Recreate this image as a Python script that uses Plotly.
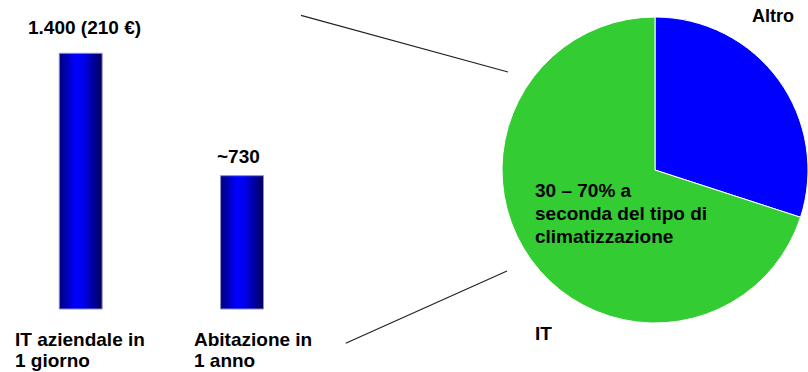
import plotly.graph_objects as go

# --- data -----------------------------------------------------------------
bar_categories = [["IT aziendale in", "1 giorno"], ["Abitazione in", "1 anno"]]
bar_values = [1400, 730]
bar_value_labels = ["1.400 (210 €)", "~730"]

pie_labels = ["Altro", "IT"]
pie_values = [30, 70]
pie_note = ["30 – 70% a", "seconda del tipo di", "climatizzazione"]

# --- style / layout -------------------------------------------------------
W, H = 808, 372
FONT = "Liberation Sans, Arial, sans-serif"
BAR_WIDTH = 0.266
BAR_SCALE = [[0.0, "#00007a"], [0.38, "#0000ff"], [0.55, "#0000f0"], [1.0, "#00005a"]]
PIE_COLORS = ["#0000ff", "#33cc33"]

label_shift = [(4, 26), (-4, 19)]        # (x, y) px offset of value labels
cat_label_x = [13, 192]                  # left edge of category labels, px
cat_label_y = [339, 360.5]               # line centres of category labels, px


def px(x):
    return x / W


def py(y):
    return 1 - y / H


fig = go.Figure()

# bars as gradient-filled columns on a linear axis
for i, v in enumerate(bar_values):
    x0, x1 = i - BAR_WIDTH / 2, i + BAR_WIDTH / 2
    fig.add_trace(go.Scatter(
        x=[x0, x1, x1, x0, x0], y=[0, 0, v, v, 0],
        mode="lines", fill="toself",
        line=dict(color="#8c8cc8", width=1),
        fillgradient=dict(type="horizontal", colorscale=BAR_SCALE),
        hoverinfo="skip", showlegend=False,
        xaxis="x", yaxis="y",
    ))

# pie of the energy share
fig.add_trace(go.Pie(
    labels=pie_labels, values=pie_values,
    marker=dict(colors=PIE_COLORS, line=dict(color="white", width=1)),
    sort=False, direction="clockwise", rotation=0,
    textinfo="none", hoverinfo="label+percent", showlegend=False,
    domain=dict(x=[px(502), 1.0], y=[py(323), py(17)]),
))

ann = []
font = dict(family=FONT, size=19, color="black", weight=700)

for i, (v, t) in enumerate(zip(bar_value_labels, bar_values)):
    dx, dy = label_shift[i]
    ann.append(dict(x=i, y=t, xref="x", yref="y", text=v, showarrow=False,
                    xanchor="center", yanchor="middle", xshift=dx, yshift=dy,
                    font=font))

for i, lines in enumerate(bar_categories):
    for j, line in enumerate(lines):
        ann.append(dict(x=px(cat_label_x[i]), y=py(cat_label_y[j]),
                        xref="paper", yref="paper", text=line, showarrow=False,
                        xanchor="left", yanchor="middle", font=font))

ann.append(dict(x=px(773), y=py(16.5), xref="paper", yref="paper",
                text=pie_labels[0], showarrow=False, xanchor="center",
                yanchor="middle", font=dict(font, size=18)))
ann.append(dict(x=px(533), y=py(333), xref="paper", yref="paper",
                text=pie_labels[1], showarrow=False, xanchor="left",
                yanchor="middle", font=font))

for j, line in enumerate(pie_note):
    ann.append(dict(x=px(533), y=py(190 + 23 * j), xref="paper", yref="paper",
                    text=line, showarrow=False, xanchor="left",
                    yanchor="middle", font=font))

# connector lines from the bar panel to the pie
shapes = [
    dict(type="line", xref="paper", yref="paper",
         x0=px(301), y0=py(15.3), x1=px(508), y1=py(72),
         line=dict(color="#222222", width=1.2)),
    dict(type="line", xref="paper", yref="paper",
         x0=px(345.7), y0=py(343.3), x1=px(507), y1=py(271),
         line=dict(color="#222222", width=1.2)),
]

fig.update_layout(
    width=W, height=H,
    margin=dict(l=0, r=0, t=0, b=0),
    paper_bgcolor="white", plot_bgcolor="white",
    xaxis=dict(domain=[0, 1], range=[-0.5003, 4.5089], visible=False, fixedrange=True),
    yaxis=dict(domain=[0, 1], range=[-344.9, 1691.9], visible=False, fixedrange=True),
    annotations=ann, shapes=shapes,
)

fig.write_html("out.html")
